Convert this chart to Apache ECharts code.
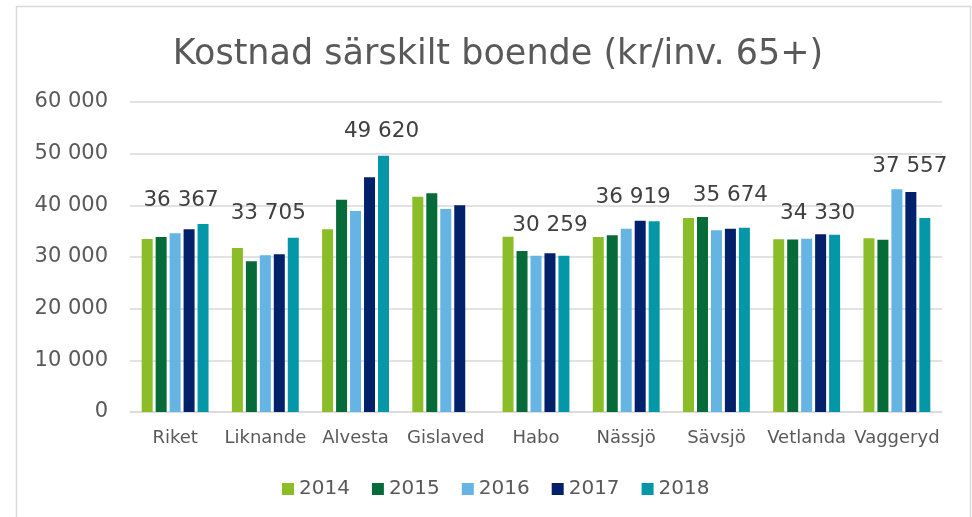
<!DOCTYPE html>
<html>
<head>
<meta charset="utf-8">
<script src="https://cdn.jsdelivr.net/npm/echarts@6/dist/echarts.min.js"></script>
<style>
html,body{margin:0;padding:0;background:#fff;}
#c{width:972px;height:517px;}
</style>
</head>
<body>
<div id="c"></div>
<script>
const categories = ['Riket','Liknande','Alvesta','Gislaved','Habo','Nässjö','Sävsjö','Vetlanda','Vaggeryd'];
const years = ['2014','2015','2016','2017','2018'];
const v2014 = [33480, 31740, 35360, 41680, 33940, 33870, 37550, 33420, 33610];
const v2015 = [33870, 29160, 41100, 42320, 31160, 34190, 37740, 33400, 33360];
const v2016 = [34580, 30320, 38900, 39290, 30260, 35480, 35160, 33550, 43100];
const v2017 = [35360, 30520, 45420, 40000, 30710, 37030, 35480, 34390, 42580];
const v2018 = [36367, 33705, 49620, null, 30259, 36919, 35674, 34330, 37557];
const yTicks = [0, 10000, 20000, 30000, 40000, 50000, 60000];

// label nudges (presentation only) for the 2018 value labels
const labelNudge = [[-22,-8],[-25,-8],[-2,-8],[0,0],[-14,-14],[-21,-8],[-14,-16],[-17,-5],[-15,-36]];

const colors = ['#8bbd28', '#066b38', '#65b4e4', '#03216a', '#0497a8'];
const seriesValues = [v2014, v2015, v2016, v2017, v2018];
const fmt = v => String(v).replace(/\B(?=(\d{3})+(?!\d))/g, ' ');
const FONT = 'DejaVu Sans';

const series = years.map((y, i) => {
  const s = {
    name: y,
    type: 'bar',
    barWidth: 11,
    barGap: '27%',
    itemStyle: { color: colors[i] },
    data: seriesValues[i].slice()
  };
  if (i === 4) {
    s.data = seriesValues[i].map((v, k) => ({
      value: v,
      label: { show: v != null, offset: labelNudge[k] }
    }));
    s.label = {
      show: true, position: 'top', distance: 5,
      formatter: p => fmt(p.value),
      fontFamily: FONT, fontSize: 21.5, color: '#404040'
    };
  }
  return s;
});

const chart = echarts.init(document.getElementById('c'), null, { renderer: 'canvas' });
chart.setOption({
  animation: false,
  backgroundColor: '#fff',
  color: colors,
  title: {
    text: 'Kostnad särskilt boende (kr/inv. 65+)',
    left: 493, top: 32, textAlign: 'center',
    textStyle: { fontFamily: FONT, fontSize: 35, fontWeight: 'normal', color: '#595959' }
  },
  graphic: [{
    type: 'rect', silent: true, z: -1,
    shape: { x: 16.5, y: 6.5, width: 954, height: 530 },
    style: { fill: null, stroke: '#d9d9d9', lineWidth: 1.5 }
  }],
  legend: {
    data: years, left: 277, top: 474,
    icon: 'rect', itemWidth: 12, itemHeight: 12, itemGap: 22,
    textStyle: { fontFamily: FONT, fontSize: 20, color: '#595959' }
  },
  grid: { left: 130, right: 30, top: 102, bottom: 105, containLabel: false },
  xAxis: {
    type: 'category', data: categories,
    axisTick: { show: false },
    axisLine: { lineStyle: { color: '#d9d9d9', width: 1.5 } },
    axisLabel: { fontFamily: FONT, fontSize: 18, color: '#595959', margin: 17, interval: 0 }
  },
  yAxis: {
    type: 'value', min: yTicks[0], max: yTicks[yTicks.length - 1], interval: yTicks[1] - yTicks[0],
    axisLine: { show: false }, axisTick: { show: false },
    splitLine: { lineStyle: { color: '#d9d9d9', width: 1.5 } },
    axisLabel: { fontFamily: FONT, fontSize: 21, color: '#595959', margin: 22, formatter: v => fmt(v) }
  },
  series: series
});
</script>
</body>
</html>
